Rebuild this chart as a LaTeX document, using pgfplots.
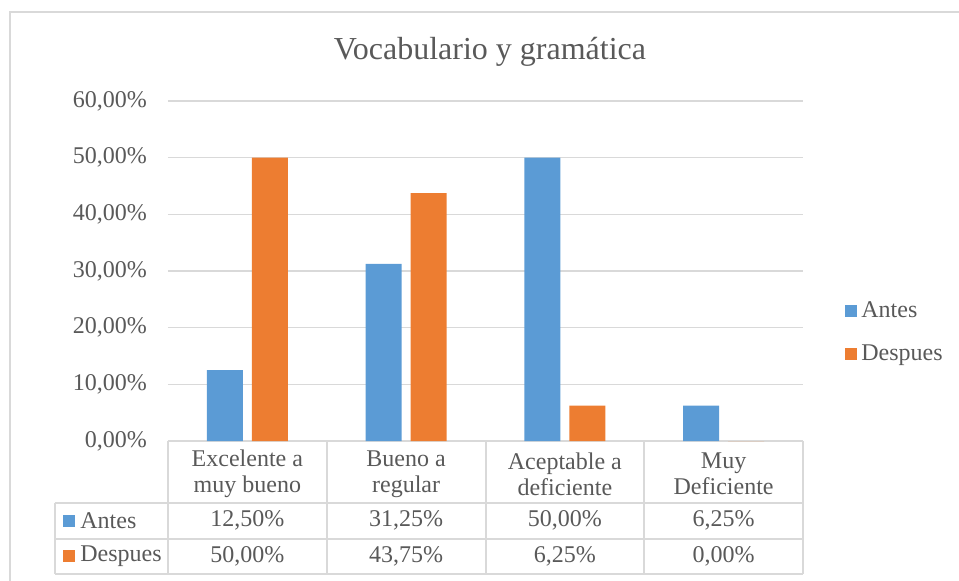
\documentclass[border=0pt]{standalone}
\usepackage{pgfplots}
\pgfplotsset{compat=1.18}
\usepackage{fontspec}
\setmainfont{Liberation Serif}

\definecolor{cblue}{HTML}{5B9BD5}
\definecolor{corange}{HTML}{ED7D31}
\definecolor{cgrid}{HTML}{D9D9D9}
\definecolor{ctext}{HTML}{595959}

\newcommand{\lbl}{\fontsize{12}{13}\selectfont}

\begin{document}
\begin{tikzpicture}
% page = 959 x 580 px, 1 px = 0.5 pt, plot area lower left at px (168,441)
\useasboundingbox (-84pt,-69.5pt) rectangle (395.5pt,220.5pt);
\begin{axis}[
    scale only axis, width=317.5pt, height=170pt,
    xmin=0, xmax=4, ymin=0, ymax=60,
    ybar=4.5pt, bar width=18pt,
    axis line style={draw=none}, major tick length=0pt,
    ymajorgrids=true, grid style={cgrid, line width=0.75pt},
    xtick={0.5,1.5,2.5,3.5},
    xticklabels={{Excelente a\\muy bueno},{Bueno a\\regular},{Aceptable a\\deficiente},{Muy\\Deficiente}},
    xticklabel style={align=center, anchor=center, yshift=-16.5pt},
    ytick={0,10,...,60},
    yticklabels={{0,00\%},{10,00\%},{20,00\%},{30,00\%},{40,00\%},{50,00\%},{60,00\%}},
    yticklabel style={xshift=-7pt},
    tick label style={font=\lbl, text=ctext},
    legend style={draw=none, fill=none, inner sep=0pt, font=\lbl, text=ctext,
                  at={(axis description cs:1,0.3195)}, anchor=west, xshift=21pt,
                  row sep=8.25pt, cells={anchor=west}},
    legend image code/.code={\fill[#1] (0pt,-3pt) rectangle (6pt,3pt);},
  ]
\addplot[fill=cblue, draw=none] coordinates {(0.5,12.5) (1.5,31.25) (2.5,50) (3.5,6.25)};
\addlegendentry{Antes}
\addplot[fill=corange, draw=none] coordinates {(0.5,50) (1.5,43.75) (2.5,6.25) (3.5,0)};
\addlegendentry{Despues}
\end{axis}

\begin{scope}[x=0.5pt, y=-0.5pt, shift={(-84pt,220.5pt)}]
  % chart frame (right and bottom lie off the page)
  \draw[cgrid, line width=1pt] (10,12) rectangle (975,600);
  % title
  \node[text=ctext, font=\fontsize{16}{18}\selectfont] at (490,52) {Vocabulario y gramática};
  % data table
  \begin{scope}[cgrid, line width=1pt]
    \foreach \xx in {168,326.75,485.5,644.25,803} \draw (\xx,441) -- (\xx,574);
    \draw (55,503) -- (55,574);
    \foreach \yy in {503,538.5,574} \draw (55,\yy) -- (803,\yy);
  \end{scope}
  \fill[cblue] (63,514.5) rectangle (75,526.5);
  \fill[corange] (63,550) rectangle (75,562);
  \begin{scope}[font=\lbl, text=ctext]
    \node[anchor=west, inner sep=0pt] at (80,520.5) {Antes};
    \node[anchor=west, inner sep=0pt] at (80,556) {Despues};
    \node at (247.4,520.5) {12,50\%};
    \node at (406.1,520.5) {31,25\%};
    \node at (564.9,520.5) {50,00\%};
    \node at (723.6,520.5) {6,25\%};
    \node at (247.4,556) {50,00\%};
    \node at (406.1,556) {43,75\%};
    \node at (564.9,556) {6,25\%};
    \node at (723.6,556) {0,00\%};
  \end{scope}
\end{scope}
\end{tikzpicture}
\end{document}
